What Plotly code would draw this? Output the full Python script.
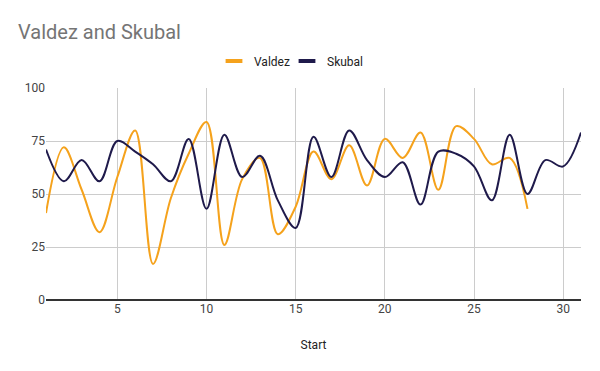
import plotly.graph_objects as go

start_valdez = list(range(1, 29))
valdez = [41, 72, 52, 32, 58, 80, 17, 48, 69, 84, 26, 57, 67, 31, 44, 70, 57, 73,
          54, 76, 67, 79, 52, 82, 76, 64, 67, 43]
start_skubal = list(range(1, 32))
skubal = [71, 56, 66, 56, 75, 70, 64, 56, 76, 43, 78, 58, 68, 47, 34, 77, 58, 80,
          66, 58, 65, 45, 70, 69, 63, 47, 78, 50, 66, 63, 79]

names = ["Valdez", "Skubal"]
colors = ["#f5a21c", "#1f1a4b"]

fig = go.Figure()
for xs, ys, name, color in [(start_valdez, valdez, names[0], colors[0]),
                            (start_skubal, skubal, names[1], colors[1])]:
    fig.add_trace(go.Scatter(x=xs, y=ys, name=name, mode="lines", showlegend=False,
                             line=dict(color=color, width=2, shape="spline", smoothing=1)))
for name, color, leg in zip(names, colors, ["legend", "legend2"]):
    fig.add_trace(go.Scatter(x=[None], y=[None], name=name, mode="markers", legend=leg,
                             marker=dict(symbol="line-ew", size=12, color=color,
                                         line=dict(width=4, color=color))))

leg_common = dict(orientation="h", xref="container", xanchor="left", y=1.127, yanchor="middle",
                  font=dict(size=12, color="#222222"), itemwidth=30, bgcolor="rgba(0,0,0,0)")

fig.update_layout(
    width=600, height=371,
    paper_bgcolor="white", plot_bgcolor="white",
    margin=dict(l=38, r=27, t=80, b=79, autoexpand=False),
    font=dict(family="Roboto, Arial, sans-serif", size=12, color="#222222"),
    title=dict(text="Valdez and Skubal", x=10 / 600, xanchor="left", xref="container",
               y=1 - 24 / 371, yanchor="middle", yref="container",
               font=dict(size=20, color="#757575", family="Roboto, Arial, sans-serif")),
    legend=dict(x=206 / 600, **leg_common),
    legend2=dict(x=279 / 600, **leg_common),
    showlegend=True,
)
fig.update_xaxes(range=[1, 31], tickvals=[5, 10, 15, 20, 25, 30], showgrid=True,
                 gridcolor="#cccccc", gridwidth=1, zeroline=False, showline=False,
                 ticks="", automargin=False,
                 title=dict(text="Start", font=dict(size=12, color="#222222"), standoff=25),
                 tickfont=dict(size=12, color="#444444"))
fig.update_yaxes(range=[0, 100], tickvals=[0, 25, 50, 75, 100], showgrid=True,
                 gridcolor="#cccccc", gridwidth=1, zeroline=True, zerolinecolor="#333333",
                 zerolinewidth=1.5, showline=False, ticks="", automargin=False,
                 tickfont=dict(size=12, color="#444444"))
fig.write_html("out.html")
